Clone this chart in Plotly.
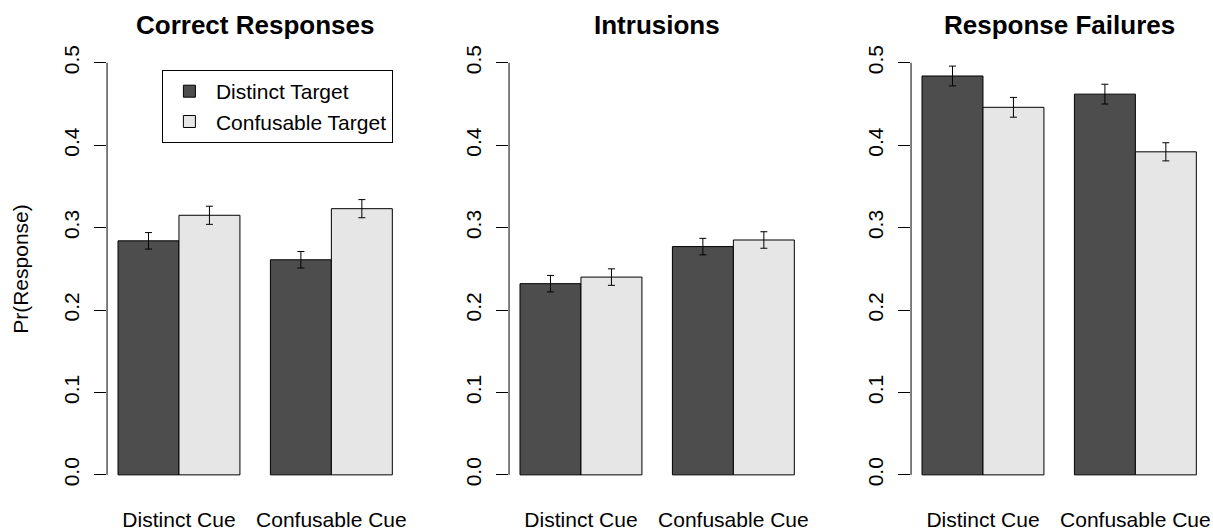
import plotly.graph_objects as go

# ---------------- data ----------------
cues = ["Distinct Cue", "Confusable Cue"]
targets = ["Distinct Target", "Confusable Target"]
panel_titles = ["Correct Responses", "Intrusions", "Response Failures"]

correct_distinct = [0.284, 0.261]
correct_confusable = [0.315, 0.323]
correct_err_distinct = [0.010, 0.010]
correct_err_confusable = [0.011, 0.011]

intrusion_distinct = [0.232, 0.277]
intrusion_confusable = [0.240, 0.285]
intrusion_err_distinct = [0.010, 0.010]
intrusion_err_confusable = [0.010, 0.010]

failure_distinct = [0.484, 0.462]
failure_confusable = [0.446, 0.392]
failure_err_distinct = [0.012, 0.012]
failure_err_confusable = [0.012, 0.011]

y_ticks = [0.0, 0.1, 0.2, 0.3, 0.4, 0.5]

# ---------------- style ----------------
DARK = "#4D4D4D"
LIGHT = "#E6E6E6"
FONT = "Liberation Sans, Arial, sans-serif"
W, H = 1213, 531

panels = [
    (correct_distinct, correct_confusable, correct_err_distinct, correct_err_confusable),
    (intrusion_distinct, intrusion_confusable, intrusion_err_distinct, intrusion_err_confusable),
    (failure_distinct, failure_confusable, failure_err_distinct, failure_err_confusable),
]

fig = go.Figure()

# plot-region geometry (pixels)
left0, step, pw = 107.3, 403.0, 297.0
y_bot_px, y_top_px = 492.2, 45.5
ydom = [(H - y_bot_px) / H, (H - y_top_px) / H]

layout = dict(
    width=W, height=H, autosize=False,
    margin=dict(l=0, r=0, t=0, b=0),
    paper_bgcolor="white", plot_bgcolor="white",
    font=dict(family=FONT, size=21, color="black"),
    barmode="group", bargap=0.2, bargroupgap=0.0,
    showlegend=True,
    legend=dict(
        x=162.3 / W, y=1 - 69.3 / H, xanchor="left", yanchor="top",
        bordercolor="black", borderwidth=1, bgcolor="white",
        font=dict(family=FONT, size=21, color="black"),
        tracegroupgap=0, itemwidth=43,
    ),
)

annotations = []
shapes = []

for i, (d_vals, c_vals, d_err, c_err) in enumerate(panels):
    n = "" if i == 0 else str(i + 1)
    xa, ya = "x" + n, "y" + n
    for name, vals, err, col in [
        (targets[0], d_vals, d_err, DARK),
        (targets[1], c_vals, c_err, LIGHT),
    ]:
        fig.add_trace(go.Bar(
            x=cues, y=vals, name=name, xaxis=xa, yaxis=ya,
            marker=dict(color=col, line=dict(color="black", width=1)),
            error_y=dict(type="data", array=err, visible=True,
                         color="black", thickness=1, width=3.5),
            showlegend=(i == 0), legendgroup=name,
            offsetgroup=name,
        ))
    lx = left0 + step * i
    layout["xaxis" + n] = dict(
        domain=[lx / W, (lx + pw) / W], anchor=ya, type="category",
        range=[-0.472, 1.472], showgrid=False, zeroline=False,
        showline=False, ticks="", tickfont=dict(size=21, family=FONT, color="black"),
        ticklabelstandoff=14,
    )
    layout["yaxis" + n] = dict(
        domain=ydom, anchor=xa, range=[-0.02, 0.52],
        tickvals=y_ticks, ticktext=[f"{v:.1f}" for v in y_ticks],
        ticks="outside", ticklen=12, tickwidth=1, tickcolor="black",
        tickangle=-90, showgrid=False, zeroline=False, showline=False,
        tickfont=dict(size=21, family=FONT, color="black"),
        ticklabelstandoff=7,
    )
    # R-style axis line spanning only the tick range
    shapes.append(dict(
        type="line", xref=xa + " domain", yref=ya,
        x0=0, x1=0, y0=y_ticks[0], y1=y_ticks[-1],
        line=dict(color="black", width=1),
    ))
    annotations.append(dict(
        text="<b>" + panel_titles[i] + "</b>", xref="paper", yref="paper",
        x=(lx + pw / 2) / W, y=1 - 24 / H, xanchor="center", yanchor="middle",
        showarrow=False, font=dict(size=26, family=FONT, color="black"),
    ))

annotations.append(dict(
    text="Pr(Response)", xref="paper", yref="paper",
    x=21 / W, y=1 - ((y_bot_px + y_top_px) / 2) / H,
    xanchor="center", yanchor="middle", textangle=-90, showarrow=False,
    font=dict(size=21, family=FONT, color="black"),
))

layout["annotations"] = annotations
layout["shapes"] = shapes
fig.update_layout(**layout)

fig.write_html("out.html")
